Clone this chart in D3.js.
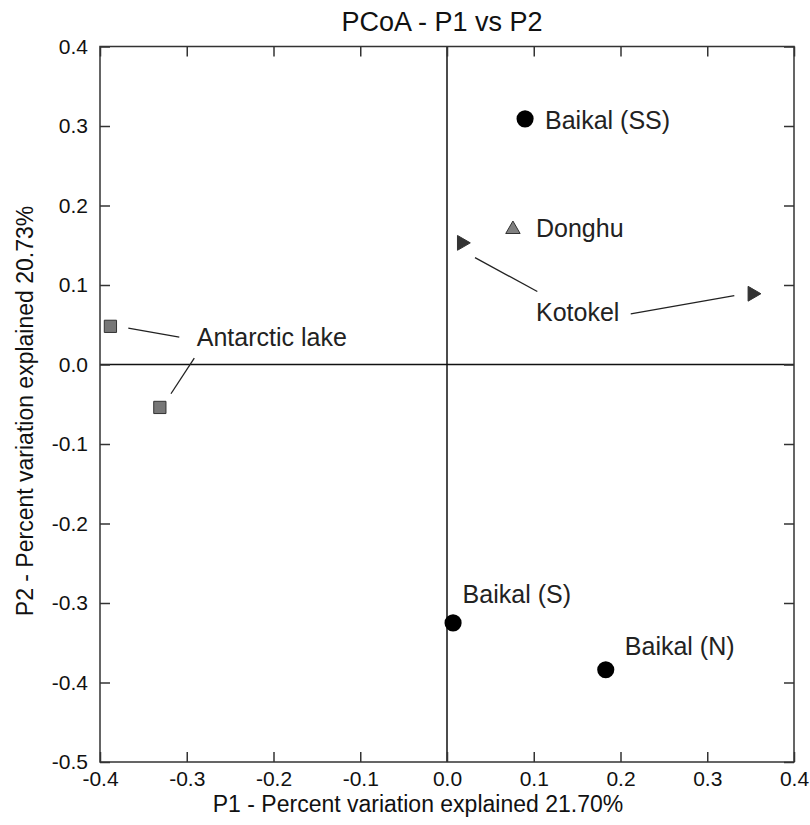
<!DOCTYPE html>
<html><head><meta charset="utf-8">
<script src="https://cdn.jsdelivr.net/npm/d3@7"></script>
<style>body{margin:0;background:#fff}svg{display:block;font-family:"Liberation Sans",Arial,sans-serif}</style>
</head><body><svg id="c" width="810" height="825"></svg>
<script>
const sampleGroups = ["Baikal (SS)","Donghu","Kotokel","Kotokel","Antarctic lake","Antarctic lake","Baikal (S)","Baikal (N)"];
const p1Values = [0.090, 0.076, 0.017, 0.352, -0.388, -0.331, 0.007, 0.183];
const p2Values = [0.309, 0.170, 0.153, 0.089, 0.048, -0.054, -0.325, -0.384];
const markerShapes = ["circle","triangleUp","triangleRight","triangleRight","square","square","circle","circle"];
const labelTexts = ["Baikal (SS)","Donghu","Kotokel","Antarctic lake","Baikal (S)","Baikal (N)"];
const labelP1 = [0.113, 0.1026, 0.1026, -0.2885, 0.018, 0.205];
const labelP2 = [0.296, 0.160, 0.055, 0.0227, -0.300, -0.365];
const leaderX1 = [0.0323, 0.2118, -0.3674, -0.2913];
const leaderY1 = [0.1345, 0.0637, 0.0458, 0.008];
const leaderX2 = [0.1041, 0.3312, -0.3086, -0.3182];
const leaderY2 = [0.0918, 0.0867, 0.0344, -0.0368];
const xTicks = [-0.4,-0.3,-0.2,-0.1,0.0,0.1,0.2,0.3,0.4];
const yTicks = [0.4,0.3,0.2,0.1,0.0,-0.1,-0.2,-0.3,-0.4,-0.5];

const svg = d3.select("#c");
const L=100,R=794,T=46.5,B=762;
const x = d3.scaleLinear().domain([-0.4,0.4]).range([L,R]);
const y = d3.scaleLinear().domain([-0.5,0.4]).range([B,T]);
const fmt = v => d3.format(".1f")(v).replace("\u2212","-");

// zero lines
svg.append("line").attr("x1",L).attr("x2",R).attr("y1",y(0)).attr("y2",y(0)).attr("stroke","#111").attr("stroke-width",1.5);
svg.append("line").attr("x1",x(0)).attr("x2",x(0)).attr("y1",T).attr("y2",B).attr("stroke","#111").attr("stroke-width",1.5);

// axes
function styleAxis(g){g.select(".domain").remove();g.selectAll("line").attr("stroke","#333").attr("stroke-width",1.5);g.selectAll("text").attr("fill","#111").attr("font-size",null).style("font-size","21px").style("font-family","Liberation Sans, Arial, sans-serif");g.attr("font-size",null).attr("font-family",null);}
svg.append("g").attr("transform",`translate(0,${B})`).call(d3.axisBottom(x).tickValues(xTicks).tickFormat(fmt).tickSizeInner(-10).tickSizeOuter(0).tickPadding(9)).call(styleAxis);
svg.append("g").attr("transform",`translate(0,${T})`).call(d3.axisTop(x).tickValues(xTicks).tickFormat("").tickSizeInner(-10).tickSizeOuter(0)).call(styleAxis);
svg.append("g").attr("transform",`translate(${L},0)`).call(d3.axisLeft(y).tickValues(yTicks).tickFormat(fmt).tickSizeInner(-10).tickSizeOuter(0).tickPadding(12)).call(styleAxis);
svg.append("g").attr("transform",`translate(${R},0)`).call(d3.axisRight(y).tickValues(yTicks).tickFormat("").tickSizeInner(-10).tickSizeOuter(0)).call(styleAxis);
svg.append("rect").attr("x",L).attr("y",T).attr("width",R-L).attr("height",B-T).attr("fill","none").attr("stroke","#333").attr("stroke-width",1.5);

// leader lines
svg.append("g").selectAll("line").data(leaderX1).join("line")
  .attr("x1",(d,i)=>x(d)).attr("y1",(d,i)=>y(leaderY1[i]))
  .attr("x2",(d,i)=>x(leaderX2[i])).attr("y2",(d,i)=>y(leaderY2[i]))
  .attr("stroke","#222").attr("stroke-width",1.3);

// markers
const sym = {circle:[d3.symbolCircle,230],triangleUp:[d3.symbolTriangle,90],triangleRight:[d3.symbolTriangle,95],square:[d3.symbolSquare,150]};
const fills = {circle:"#000",triangleUp:"#808080",triangleRight:"#333",square:"#777"};
svg.append("g").selectAll("path").data(p1Values).join("path")
  .attr("d",(d,i)=>d3.symbol().type(sym[markerShapes[i]][0]).size(sym[markerShapes[i]][1])())
  .attr("transform",(d,i)=>`translate(${x(d)},${y(p2Values[i])})`+(markerShapes[i]==="triangleRight"?" rotate(90)":""))
  .attr("fill",(d,i)=>fills[markerShapes[i]])
  .attr("stroke",(d,i)=>markerShapes[i]==="circle"?"none":"#333").attr("stroke-width",1);

// labels
svg.append("g").selectAll("text").data(labelTexts).join("text")
  .attr("x",(d,i)=>x(labelP1[i])).attr("y",(d,i)=>y(labelP2[i]))
  .attr("fill","#222").style("font-size","25px").text(d=>d);

// titles
svg.append("text").attr("x",442).attr("y",31).attr("text-anchor","middle").attr("fill","#111").style("font-size","27px").text("PCoA - P1 vs P2");
svg.append("text").attr("x",418).attr("y",812).attr("text-anchor","middle").attr("fill","#111").style("font-size","23px").text("P1 - Percent variation explained 21.70%");
svg.append("text").attr("transform",`translate(33,411) rotate(-90)`).attr("text-anchor","middle").attr("fill","#111").style("font-size","23px").text("P2 - Percent variation explained 20.73%");
</script></body></html>
